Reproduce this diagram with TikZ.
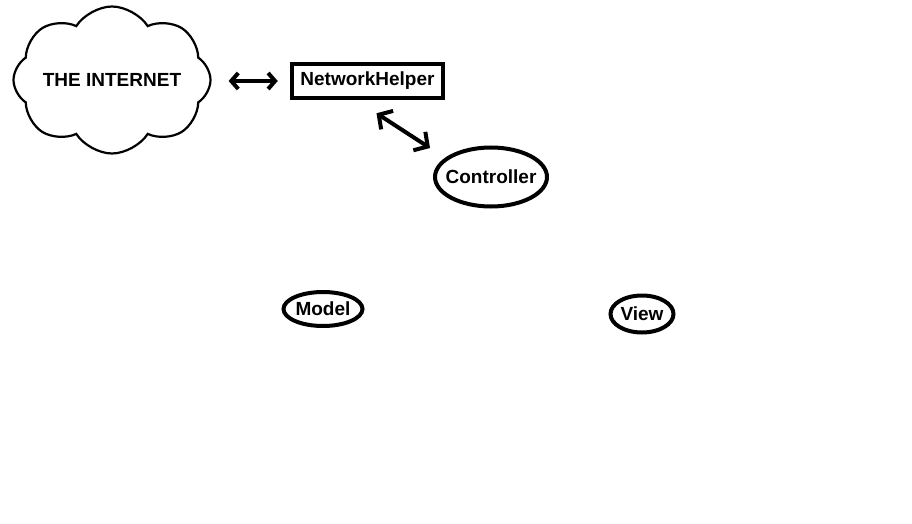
\documentclass[tikz,border=0pt]{standalone}
\usepackage{fontspec}
\setmainfont{Liberation Sans}
\usetikzlibrary{shapes.symbols,shapes.geometric,arrows.meta}

\tikzset{
  lbl/.style={font=\fontsize{19}{22}\selectfont\bfseries},
  oval/.style={ellipse,draw,line width=4pt,inner sep=0pt,lbl},
  link/.style={line width=4pt,{Straight Barb[length=7pt,width=16pt]}-{Straight Barb[length=7pt,width=16pt]}}
}
\newcommand{\nowidth}[1]{\makebox[0pt]{#1}}

\begin{document}
\begin{tikzpicture}[x=1pt,y=-1pt]
				\useasboundingbox (0,0) rectangle (912,524);
				% Nodes
				\node[cloud,draw,line width=2.2pt,cloud puffs=8,cloud puff arc=115,aspect=1.35,inner sep=0pt,
				      minimum width=197pt,minimum height=147pt,lbl] (net) at (112,80) {\nowidth{THE INTERNET}};
				\node[draw,line width=4.5pt,minimum width=151pt,minimum height=34pt,lbl] (helper) at (367.5,81) {NetworkHelper};
				
				\node[oval,minimum width=112pt,minimum height=59pt] (ctrl) at (491,177) {\nowidth{Controller}};
				\node[oval,minimum width=79pt,minimum height=34pt] (model) at (323,309) {\nowidth{Model}};
				\node[oval,minimum width=63pt,minimum height=37pt] (view) at (642,314) {\nowidth{View}};
				
				% Arrows
				\draw[link] (net.east |- helper.west) ++(17,0) -- ([xshift=-12pt]helper.west); % internet to helper
				\draw[link,{Straight Barb[length=10pt,width=22pt]}-{Straight Barb[length=10pt,width=22pt]}]
				  ([shift={(9,13)}]helper.south) -- ([shift={(-3,-29)}]ctrl.west); % helper to controller
			\end{tikzpicture}
\end{document}
